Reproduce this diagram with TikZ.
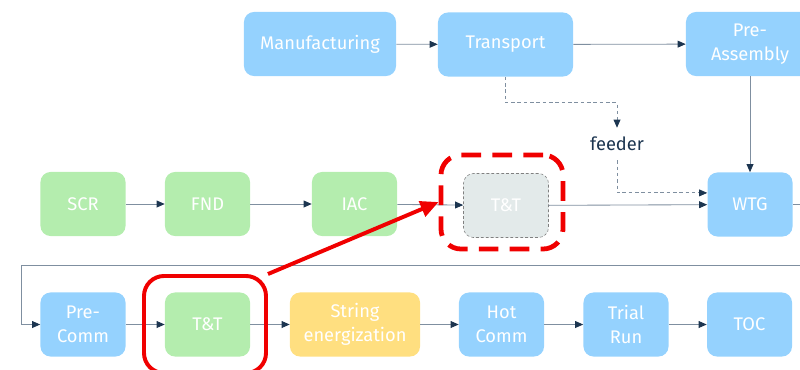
\documentclass[tikz,border=0pt]{standalone}
\usepackage{fontspec}
\setmainfont{Fira Sans}
\usepackage{xcolor}
\usetikzlibrary{arrows.meta}
\definecolor{supplyblue}{HTML}{95D2FE}
\definecolor{civilgreen}{HTML}{B4EDAE}
\definecolor{energyellow}{HTML}{FFDF80}
\definecolor{skipgray}{HTML}{E3EAEA}
\definecolor{linegray}{HTML}{7F8FA0}
\definecolor{tipnavy}{HTML}{1C3550}
\definecolor{markred}{HTML}{F00000}

\begin{document}
\begin{tikzpicture}[x=0.025cm, y=-0.025cm,
		box/.style={rounded corners=0.25cm, minimum width=2.125cm, minimum height=1.6cm, inner sep=0pt, align=center, text=white, font=\fontsize{13}{17}\selectfont},
		supply/.style={box, fill=supplyblue},
		civil/.style={box, fill=civilgreen},
		energize/.style={box, fill=energyellow},
		skipped/.style={box, fill=skipgray, draw=gray, dashed, dash pattern=on 2pt off 1.5pt},
		flow/.style={draw=linegray, line width=0.6pt, -{Triangle[length=0.2cm, width=0.17cm, color=tipnavy]}},
		feed/.style={flow, dash pattern=on 2.5pt off 2pt},
		hilite/.style={draw=markred, rounded corners=0.5cm, minimum width=3.05cm, inner sep=0pt},
		redarrow/.style={draw=markred, line width=2.8pt, -{Triangle[length=0.45cm, width=0.4cm]}}]
		\useasboundingbox (0,0) rectangle (800,369);
		% top row
		\node[supply, minimum width=3.8cm] (manuf) at (320,44) {Manufacturing};
		\node[supply, minimum width=3.375cm] (transport) at (505.5,44.5) {Transport};
		\node[supply, minimum width=3.2cm] (preasm) at (750,44) {Pre-\\Assembly};
		\node[text=tipnavy, font=\fontsize{13}{17}\selectfont, minimum height=0.8cm, inner sep=0pt] (feeder) at (617,144) {feeder};
		% middle row
		\node[civil] (scr) at (83,204) {SCR};
		\node[civil] (fnd) at (207.5,204) {FND};
		\node[civil] (iac) at (354.5,204) {IAC};
		\node[skipped] (oldtt) at (506,205.5) {T\&T};
		\node[supply] (wtg) at (750,204.5) {WTG};
		% bottom row
		\node[supply] (precomm) at (83,324.5) {Pre-\\Comm};
		\node[civil] (newtt) at (207.5,324.5) {T\&T};
		\node[energize, minimum width=3.25cm] (string) at (355,324.5) {String\\energization};
		\node[supply] (hot) at (501.5,324.5) {Hot\\Comm};
		\node[supply] (trial) at (626,324.5) {Trial\\Run};
		\node[supply] (toc) at (749.5,324.5) {TOC};

		\draw[flow] (manuf) -- (transport);
		\draw[flow] (transport) -- (preasm);
		\draw[flow] (preasm) -- (wtg);
		\draw[feed] (transport.south) -- ++(0,26) -| (feeder.north);
		\draw[feed] (feeder.south) |- ([yshift=0.29cm]wtg.west);
		\draw[flow] (scr) -- (fnd);
		\draw[flow] (fnd) -- (iac);
		\draw[flow] (iac) -- (oldtt);
		\draw[flow] (oldtt) -- (wtg);
		\draw[flow] (wtg.east) -- ++(22,0) |- (21,265) |- (precomm.west);
		\draw[flow] (precomm) -- (newtt);
		\draw[flow] (newtt) -- (string);
		\draw[flow] (string) -- (hot);
		\draw[flow] (hot) -- (trial);
		\draw[flow] (trial) -- (toc);

		% red marks
		\node[hilite, line width=3.4pt, dash pattern=on 14pt off 8pt, minimum height=2.35cm] (oldbox) at (502,202) {};
		\node[hilite, line width=2.8pt, minimum height=2.425cm] (newbox) at (205,324.5) {};
		\draw[redarrow] (newbox.north east) -- (oldbox.west);
	\end{tikzpicture}
\end{document}
